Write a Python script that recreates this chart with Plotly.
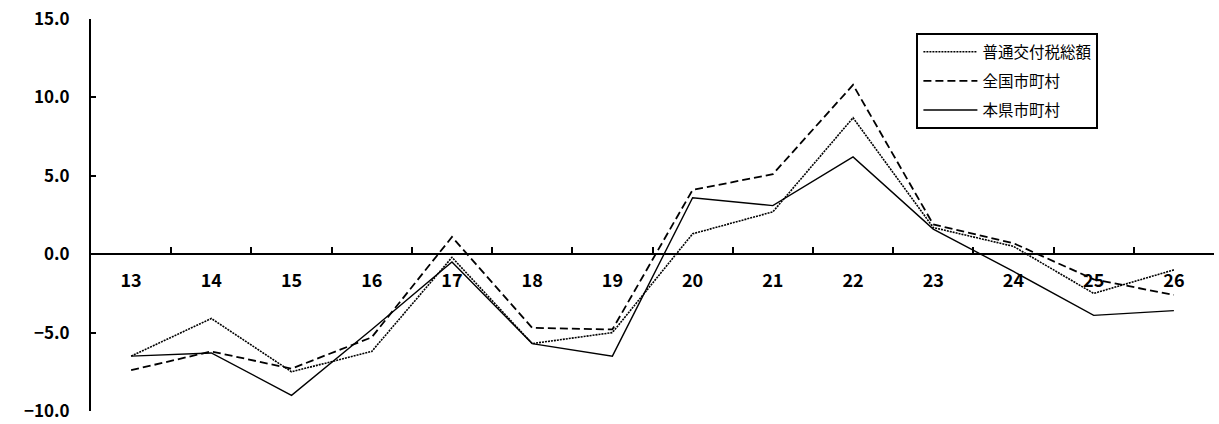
import plotly.graph_objects as go

years = ["13", "14", "15", "16", "17", "18", "19", "20", "21", "22", "23", "24", "25", "26"]
kofuzei_total = [-6.5, -4.1, -7.5, -6.2, -0.2, -5.7, -5.0, 1.3, 2.7, 8.7, 1.7, 0.5, -2.5, -1.0]
zenkoku = [-7.4, -6.2, -7.3, -5.3, 1.1, -4.7, -4.8, 4.1, 5.1, 10.8, 1.9, 0.7, -1.6, -2.6]
honken = [-6.5, -6.3, -9.0, -4.8, -0.5, -5.7, -6.5, 3.6, 3.1, 6.2, 1.6, -1.1, -3.9, -3.6]
names = ["普通交付税総額", "全国市町村", "本県市町村"]

FONT = "Noto Sans CJK JP"

fig = go.Figure()
fig.add_trace(go.Scatter(x=years, y=kofuzei_total, mode="lines", name=names[0],
                         legendgroup="a",
                         line=dict(color="black", width=1.6, dash="2px,1px")))
fig.add_trace(go.Scatter(x=years, y=zenkoku, mode="lines", name=names[1],
                         legendgroup="b",
                         line=dict(color="black", width=1.8, dash="8px,4px")))
fig.add_trace(go.Scatter(x=years, y=honken, mode="lines", name=names[2],
                         legendgroup="c",
                         line=dict(color="black", width=1.4)))

fig.update_layout(
    width=1219, height=424,
    margin=dict(l=91, r=5, t=19, b=13, autoexpand=False),
    paper_bgcolor="white", plot_bgcolor="white",
    font=dict(family=FONT, color="black"),
    showlegend=True,
    legend=dict(x=0.735, y=0.964, xanchor="left", yanchor="top",
                bgcolor="white", bordercolor="black", borderwidth=2,
                font=dict(family=FONT, size=15.5, color="black"),
                tracegroupgap=6, itemwidth=54),
)
fig.update_xaxes(
    type="category", range=[-0.5, 13.5],
    anchor="free", position=0.4, automargin=False,
    showline=True, linecolor="black", linewidth=2,
    ticks="inside", ticklen=6, tickwidth=1.5, tickcolor="black",
    tickson="boundaries", showgrid=False, zeroline=False,
    tickfont=dict(family=FONT, size=18, color="black", weight="bold"),
    ticklabelstandoff=10,
)
fig.update_yaxes(
    range=[-10, 15], dtick=5, tickformat=".1f", automargin=False,
    showline=True, linecolor="black", linewidth=2,
    ticks="inside", ticklen=5, tickwidth=1.5, tickcolor="black",
    showgrid=False, zeroline=False,
    tickfont=dict(family=FONT, size=17, color="black", weight="bold"),
    ticklabelstandoff=16,
)

# remove the page's default 8px body margin so the figure fills the window
fig.write_html("out.html", config={"displayModeBar": False},
               post_script="document.body.style.margin='0';")
